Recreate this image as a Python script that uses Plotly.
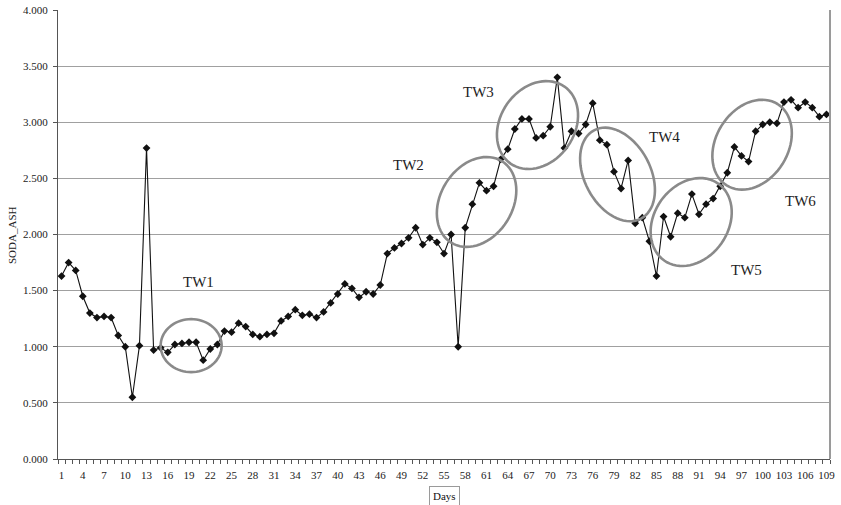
import math
import plotly.graph_objects as go

# Daily SODA_ASH readings
days = list(range(1, 110))
soda_ash = [
    1.63, 1.75, 1.68, 1.45, 1.30, 1.26, 1.27, 1.26, 1.10, 1.00,
    0.55, 1.01, 2.77, 0.97, 0.99, 0.95, 1.02, 1.03, 1.04, 1.04,
    0.88, 0.98, 1.02, 1.14, 1.13, 1.21, 1.18, 1.11, 1.09, 1.11,
    1.12, 1.23, 1.27, 1.33, 1.28, 1.29, 1.26, 1.31, 1.39, 1.47,
    1.56, 1.52, 1.44, 1.49, 1.47, 1.55, 1.83, 1.88, 1.92, 1.97,
    2.06, 1.91, 1.97, 1.93, 1.83, 2.00, 1.00, 2.06, 2.27, 2.46,
    2.39, 2.43, 2.67, 2.76, 2.94, 3.03, 3.03, 2.86, 2.88, 2.96,
    3.40, 2.77, 2.92, 2.90, 2.98, 3.17, 2.84, 2.80, 2.56, 2.41,
    2.66, 2.10, 2.15, 1.94, 1.63, 2.16, 1.98, 2.19, 2.15, 2.36,
    2.18, 2.27, 2.32, 2.43, 2.55, 2.78, 2.70, 2.65, 2.92, 2.98,
    3.00, 2.99, 3.18, 3.20, 3.13, 3.18, 3.13, 3.05, 3.07,
]
tick_days = days[::3]
y_ticks = [0.0, 0.5, 1.0, 1.5, 2.0, 2.5, 3.0, 3.5, 4.0]

# Time-window labels and their highlight ellipses
tw_labels = ["TW1", "TW2", "TW3", "TW4", "TW5", "TW6"]
tw_label_pos = [(20.3, 1.58), (50.0, 2.62), (59.8, 3.27), (86.1, 2.87), (97.7, 1.68), (105.3, 2.30)]
# (center day, center value, semi-axis a [px], semi-axis b [px], tilt deg)
tw_ellipses = [
    (19.3, 1.010, 30.5, 26.5, 0),
    (59.6, 2.290, 48, 36, 58),
    (68.2, 2.975, 47, 37, 55),
    (79.5, 2.535, 50, 33, -62),
    (89.9, 2.111, 47, 37, 55),
    (98.5, 2.800, 48, 36, 58),
]

L, R, T, B = 58, 11, 10, 46
W, H = 841, 505
PW, PH = W - L - R, H - T - B
px_per_day = PW / 109.0
px_per_val = PH / 4.0

FONT = "Liberation Serif, Times New Roman, serif"

fig = go.Figure()
fig.add_trace(go.Scatter(
    x=days, y=soda_ash, mode="lines+markers",
    line=dict(color="#111111", width=1.1),
    marker=dict(symbol="diamond", size=6, color="#111111"),
    showlegend=False, hoverinfo="x+y",
))


def ellipse_path(cd, cv, a, b, deg, n=72):
    th = math.radians(deg)
    pts = []
    for i in range(n + 1):
        t = 2 * math.pi * i / n
        dx = a * math.cos(th) * math.cos(t) - b * math.sin(th) * math.sin(t)
        dy = a * math.sin(th) * math.cos(t) + b * math.cos(th) * math.sin(t)
        pts.append((cd + dx / px_per_day, cv + dy / px_per_val))
    return "M " + " L ".join(f"{x:.4f},{y:.4f}" for x, y in pts) + " Z"


shapes = []
for cd, cv, a, b, deg in tw_ellipses:
    shapes.append(dict(type="path", xref="x", yref="y",
                       path=ellipse_path(cd, cv, a, b, deg),
                       line=dict(color="#8a8a8a", width=2.6)))

annotations = []
for txt, (xd, yv) in zip(tw_labels, tw_label_pos):
    annotations.append(dict(x=xd, y=yv, xref="x", yref="y", text=txt,
                            showarrow=False, font=dict(family=FONT, size=15, color="#222222")))

# boxed axis title under the category labels
annotations.append(dict(x=(444 - L) / PW, y=-(496 - (H - B)) / PH,
                        xref="paper", yref="paper", xanchor="center", yanchor="middle",
                        text="Days", showarrow=False,
                        font=dict(family=FONT, size=11, color="#111111"),
                        bordercolor="#9a9a9a", borderwidth=1, borderpad=3,
                        bgcolor="white"))
# vertical value-axis title
annotations.append(dict(x=-(L - 12) / PW, y=(H - B - 235) / PH,
                        xref="paper", yref="paper", xanchor="center", yanchor="middle",
                        text="SODA_ASH", textangle=-90, showarrow=False,
                        font=dict(family=FONT, size=11, color="#222222")))

fig.update_layout(
    width=W, height=H,
    margin=dict(l=L, r=R, t=T, b=B, autoexpand=False),
    paper_bgcolor="white", plot_bgcolor="white",
    shapes=shapes, annotations=annotations,
    font=dict(family=FONT, size=11, color="#222222"),
)
fig.update_xaxes(
    range=[0.5, 109.5], tickmode="array", tickvals=tick_days,
    ticktext=[str(d) for d in tick_days], ticks="", showgrid=False,
    showline=True, linecolor="#555555", linewidth=1, mirror=False,
    tickfont=dict(family=FONT, size=11, color="#222222"),
    ticklabelstandoff=6, automargin=False,
    minor=dict(tickmode="linear", tick0=0.5, dtick=1, ticks="outside",
               ticklen=4, tickcolor="#555555", showgrid=False),
    zeroline=False,
)
fig.update_yaxes(
    range=[0, 4], tickmode="array", tickvals=y_ticks,
    ticktext=[f"{v:.3f}" for v in y_ticks],
    ticks="outside", ticklen=4, tickcolor="#555555",
    showgrid=True, gridcolor="#a0a0a0", gridwidth=1,
    showline=True, linecolor="#555555", linewidth=1,
    tickfont=dict(family=FONT, size=11, color="#222222"),
    ticklabelstandoff=3, automargin=False,
    zeroline=False,
)
# right frame edge
fig.add_shape(type="line", xref="paper", yref="paper", x0=1, x1=1, y0=0, y1=1,
              line=dict(color="#9a9a9a", width=2))

fig.write_html("out.html")
